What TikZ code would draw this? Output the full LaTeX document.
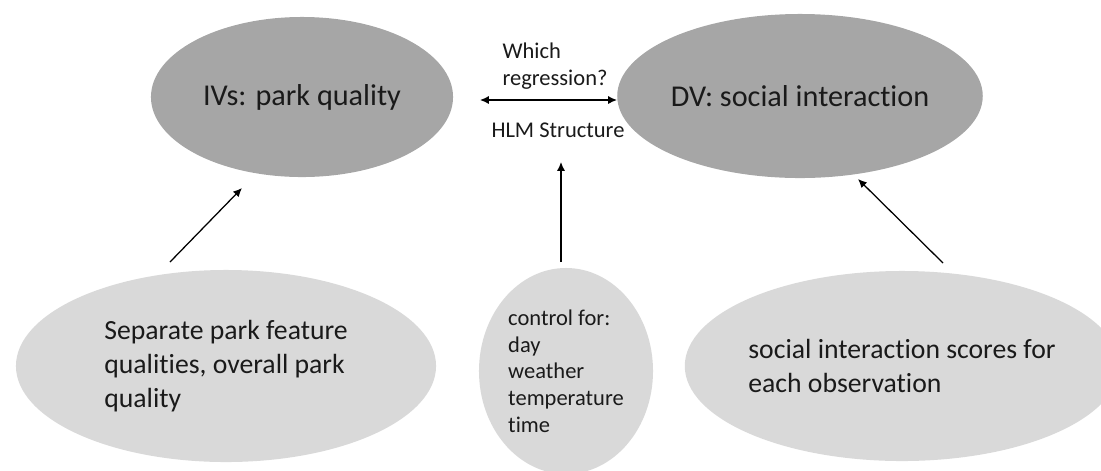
\documentclass[tikz,border=0pt]{standalone}
\usepackage{fontspec}
\setmainfont{Carlito}[Ligatures=NoCommon]
\usetikzlibrary{arrows.meta,shapes.geometric}
\definecolor{ivgray}{HTML}{A6A6A6}
\definecolor{obsgray}{HTML}{D9D9D9}
\definecolor{inkgray}{HTML}{1A1A1A}

\begin{document}
\begin{tikzpicture}[x=0.025cm,y=-0.025cm,>={Latex[length=2.2mm,width=2mm]},
    topoval/.style={ellipse,fill=ivgray,text=inkgray,inner sep=0pt,font=\fontsize{21.5}{26}\selectfont},
    lowoval/.style={ellipse,fill=obsgray,text=inkgray,inner sep=0pt,align=left,font=\fontsize{19.7}{24}\selectfont},
    smalltxt/.style={text=inkgray,inner sep=0pt,align=left,font=\fontsize{16}{19}\selectfont},
    link/.style={->,line width=0.9pt}]
  \useasboundingbox (0,0) rectangle (1101,470);
  % top row
  \node[topoval,minimum width=7.55cm,minimum height=4cm] (iv) at (302,97) {IVs: park quality};
  \node[topoval,minimum width=7.55cm,minimum height=4.1cm] (dv) at (800,96) {DV: social interaction};
  \node[smalltxt] (which) at (555,66) {Which\\regression?};
  \node[smalltxt] (hlm) at (558,130) {HLM Structure};
  % bottom row
  \node[lowoval,minimum width=10.5cm,minimum height=4.8cm] (feat) at (226,366) {Separate park feature\\qualities, overall park\\quality};
  \node[lowoval,smalltxt,fill=obsgray,minimum width=4.35cm,minimum height=5.15cm] (ctrl) at (566,371) {control for:\\day\\weather\\temperature\\time};
  \node[lowoval,minimum width=10.25cm,minimum height=4.75cm] (score) at (902,366) {social interaction scores for\\each observation};
  % arrow ends
  \coordinate (feattop) at (170,262);
  \coordinate (ivbot) at (242,188);
  \coordinate (ctrltop) at (561,262);
  \coordinate (hlmbot) at (561,162);
  \coordinate (scoretop) at (943,263);
  \coordinate (dvbot) at (858,179);
  \coordinate (regl) at (480,100);
  \coordinate (regr) at (617,100);
  \draw[link] (feattop) -- (ivbot);
  \draw[link] (ctrltop) -- (hlmbot);
  \draw[link] (scoretop) -- (dvbot);
  \draw[link,<->] (regl) -- (regr);
\end{tikzpicture}
\end{document}
